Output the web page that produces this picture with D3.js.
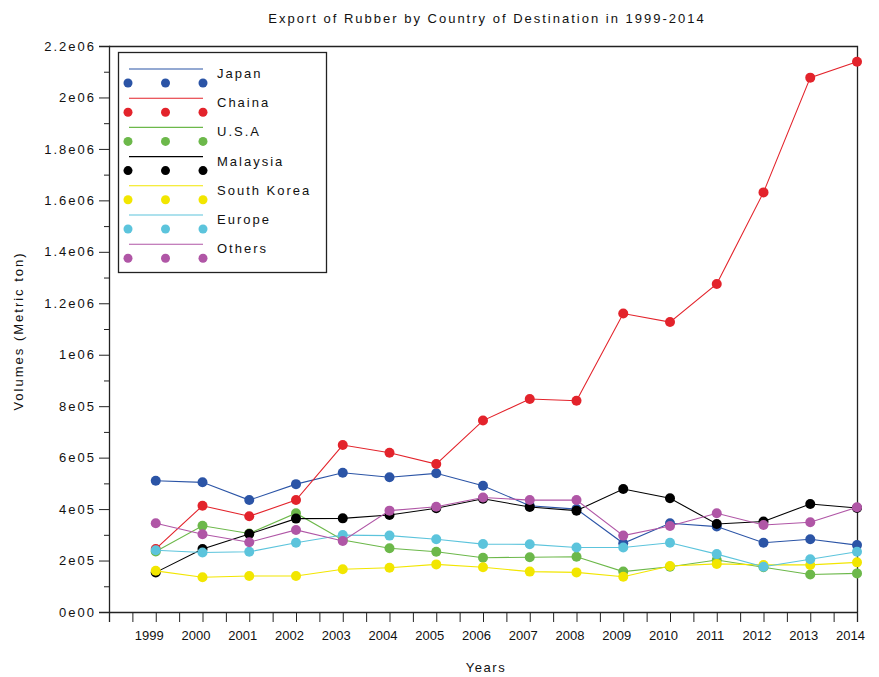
<!DOCTYPE html>
<html>
<head>
<meta charset="utf-8">
<script src="https://cdn.jsdelivr.net/npm/d3@7"></script>
<style>
  html, body { margin: 0; padding: 0; background: #fff; }
  svg { display: block; font-family: "Liberation Sans", Arial, sans-serif; }
</style>
</head>
<body>
<svg id="chart" width="879" height="677"></svg>
<script>
// Rubber export volumes (metric tons) by destination, 1999-2014
const years = [1999, 2000, 2001, 2002, 2003, 2004, 2005, 2006, 2007, 2008, 2009, 2010, 2011, 2012, 2013, 2014];

const japan      = [510000, 504000, 435000, 497000, 541000, 524000, 539000, 491000, 413000, 400000, 267000, 345000, 332000, 269000, 283000, 260000];
const china      = [245000, 413000, 372000, 435000, 649000, 619000, 575000, 744000, 828000, 821000, 1160000, 1127000, 1275000, 1631000, 2077000, 2139000];
const usa        = [235000, 335000, 305000, 384000, 280000, 248000, 234000, 211000, 213000, 215000, 157000, 176000, 202000, 174000, 146000, 150000];
const malaysia   = [154000, 245000, 303000, 363000, 364000, 377000, 403000, 440000, 408000, 394000, 478000, 442000, 342000, 352000, 420000, 404000];
const southKorea = [160000, 135000, 140000, 140000, 166000, 172000, 185000, 174000, 157000, 154000, 137000, 179000, 187000, 183000, 183000, 193000];
const europe     = [240000, 231000, 234000, 269000, 299000, 297000, 283000, 264000, 263000, 251000, 251000, 269000, 225000, 176000, 205000, 234000];
const others     = [345000, 302000, 271000, 319000, 276000, 394000, 409000, 445000, 435000, 435000, 297000, 334000, 384000, 338000, 349000, 407000];

const seriesNames  = ["Japan", "Chaina", "U.S.A", "Malaysia", "South Korea", "Europe", "Others"];
const seriesValues = [japan, china, usa, malaysia, southKorea, europe, others];
const seriesColors = ["#2b54a6", "#e3232b", "#6cb84a", "#000000", "#f2e600", "#5cc4dc", "#b056a6"];

const yTickValues = [0, 200000, 400000, 600000, 800000, 1000000, 1200000, 1400000, 1600000, 1800000, 2000000, 2200000];
const yTickLabels = ["0e00", "2e05", "4e05", "6e05", "8e05", "1e06", "1.2e06", "1.4e06", "1.6e06", "1.8e06", "2e06", "2.2e06"];

const titleText = "Export of Rubber by Country of Destination in 1999-2014";
const xLabel = "Years";
const yLabel = "Volumes (Metric ton)";

const svg = d3.select("#chart");
const plot = { left: 109, right: 857, top: 46, bottom: 612 };
const ink = "#111";

const x = d3.scaleLinear().domain([1998, 2014]).range([plot.left, plot.right]);
const y = d3.scaleLinear().domain([0, 2200000]).range([plot.bottom, plot.top]);

// frame (top and right edges)
svg.append("path")
  .attr("d", `M${plot.left},${plot.top + 0.5}H${plot.right + 0.5}V${plot.bottom}`)
  .attr("fill", "none").attr("stroke", "#222").attr("stroke-width", 1.3);

// y axis with minor ticks
const yMinor = d3.range(100000, 2200000, 200000);
svg.append("g")
  .attr("transform", `translate(${plot.left},0)`)
  .call(d3.axisLeft(y).tickValues(yMinor).tickSize(5).tickFormat(""))
  .call(g => g.select(".domain").remove());
const yAxis = svg.append("g")
  .attr("transform", `translate(${plot.left},0)`)
  .call(d3.axisLeft(y).tickValues(yTickValues).tickSize(10).tickPadding(5)
    .tickFormat((d, i) => yTickLabels[i]));
yAxis.selectAll("text")
  .attr("font-size", 13).attr("letter-spacing", 2).attr("fill", ink)
  .attr("dx", 2);

// x axis with half-year minor ticks
const xMinor = years.map(v => v - 0.5);
svg.append("g")
  .attr("transform", `translate(0,${plot.bottom})`)
  .call(d3.axisBottom(x).tickValues(xMinor).tickSize(10).tickFormat(""))
  .call(g => g.select(".domain").remove());
const xAxis = svg.append("g")
  .attr("transform", `translate(0,${plot.bottom})`)
  .call(d3.axisBottom(x).tickValues(years).tickSize(10).tickPadding(9).tickFormat(d3.format("d")));
xAxis.selectAll("text").attr("font-size", 13).attr("fill", ink).attr("dx", -7);

svg.selectAll(".domain").attr("stroke", "#222").attr("stroke-width", 1.3);
svg.selectAll(".tick line").attr("stroke", "#222");

// series lines and markers
const line = d3.line().x((d, i) => x(years[i])).y(d => y(d));
seriesValues.forEach((vals, s) => {
  const g = svg.append("g").attr("class", "series");
  g.append("path")
    .attr("d", line(vals))
    .attr("fill", "none")
    .attr("stroke", seriesColors[s])
    .attr("stroke-width", 1.1);
  g.selectAll("circle").data(vals).join("circle")
    .attr("cx", (d, i) => x(years[i]))
    .attr("cy", d => y(d))
    .attr("r", 5)
    .attr("fill", seriesColors[s]);
});

// legend
const legend = svg.append("g");
legend.append("rect")
  .attr("x", 118.5).attr("y", 52.5).attr("width", 208).attr("height", 220)
  .attr("fill", "#fff").attr("stroke", "#222").attr("stroke-width", 1.3);
seriesNames.forEach((name, s) => {
  const ly = 69 + s * 29.2;
  legend.append("line")
    .attr("x1", 129).attr("x2", 203).attr("y1", ly).attr("y2", ly)
    .attr("stroke", seriesColors[s]).attr("stroke-width", 1.1);
  [128, 165.5, 203].forEach(cx => {
    legend.append("circle").attr("cx", cx).attr("cy", ly + 14).attr("r", 4.5).attr("fill", seriesColors[s]);
  });
  legend.append("text")
    .attr("x", 217).attr("y", ly + 9)
    .attr("font-size", 13).attr("letter-spacing", 2).attr("fill", ink)
    .text(name);
});

// titles
svg.append("text")
  .attr("x", 487).attr("y", 23).attr("text-anchor", "middle")
  .attr("font-size", 13).attr("letter-spacing", 2).attr("fill", ink)
  .text(titleText);
svg.append("text")
  .attr("x", 486).attr("y", 672).attr("text-anchor", "middle")
  .attr("font-size", 13).attr("letter-spacing", 1.5).attr("fill", ink)
  .text(xLabel);
svg.append("text")
  .attr("transform", "translate(23,331) rotate(-90)")
  .attr("text-anchor", "middle")
  .attr("font-size", 13).attr("letter-spacing", 2).attr("fill", ink)
  .text(yLabel);
</script>
</body>
</html>
